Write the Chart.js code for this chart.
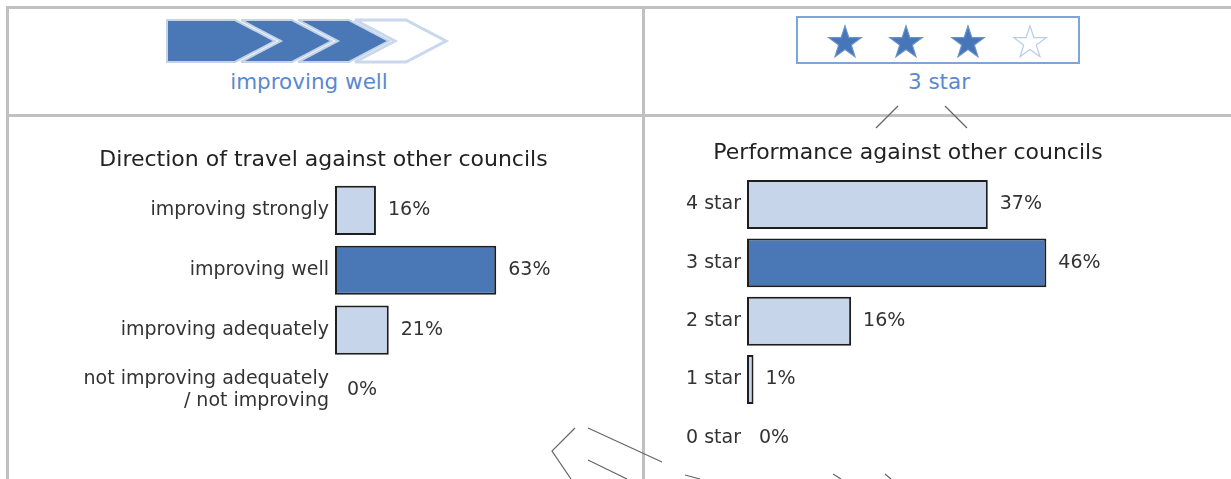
<!DOCTYPE html>
<html>
<head>
<meta charset="utf-8">
<script src="https://cdn.jsdelivr.net/npm/chart.js@4"></script>
<style>
  body { margin: 0; background: #fff; }
  #page { position: relative; width: 1231px; height: 479px; overflow: hidden; background: #fff; }
  .rule { position: absolute; background: #c0c0c0; }
  canvas { position: absolute; }
  svg { position: absolute; left: 0; top: 0; }
</style>
</head>
<body>
<div id="page">
  <div class="rule" style="left:6px;top:6px;width:1225px;height:3px"></div>
  <div class="rule" style="left:6px;top:114px;width:1225px;height:3px"></div>
  <div class="rule" style="left:6px;top:6px;width:3px;height:473px"></div>
  <div class="rule" style="left:642px;top:6px;width:3px;height:473px"></div>

  <svg id="head" width="1231" height="479"></svg>

  <canvas id="Chart1" style="left:10px;top:120px" width="630" height="359"></canvas>
  <canvas id="Chart2" style="left:646px;top:120px" width="585" height="359"></canvas>
</div>
<script>
// values
const travelLabels = ['improving strongly', 'improving well', 'improving adequately', ['not improving adequately', '/ not improving']];
const travelValues = [16, 63, 21, 0];
const travelCurrent = 1;   // "improving well"

const starLabels = ['4 star', '3 star', '2 star', '1 star', '0 star'];
const starValues = [37, 46, 16, 1, 0];
const starCurrent = 1;     // "3 star"
const starsGot = 3;
const starsMax = 4;

const chevronSteps = 4;
const chevronGot = 3;

const dark = '#4a78b6';
const light = '#c6d5e9';
const labelFont = { family: 'DejaVu Sans', size: 19 };

// draws "16%" etc. just after the end of each bar
const valueLabels = {
  id: 'valueLabels',
  afterDatasetsDraw(chart) {
    const ctx = chart.ctx;
    const meta = chart.getDatasetMeta(0);
    ctx.save();
    ctx.font = '19px "DejaVu Sans"';
    ctx.fillStyle = '#333';
    ctx.textAlign = 'left';
    ctx.textBaseline = 'middle';
    meta.data.forEach(function(bar, i) {
      ctx.fillText(chart.data.datasets[0].data[i] + '%', bar.x + 12, bar.y);
    });
    ctx.restore();
  }
};

function chart(chartID, labels, values, current, title, axisWidth, xmax, barPct, pad, titlePad) {
  const ctx = document.getElementById(chartID).getContext('2d');
  return new Chart(ctx, {
    type: 'bar',
    data: {
      labels: labels,
      datasets: [{
        data: values,
        backgroundColor: function(c) { return c.dataIndex === current ? dark : light; },
        borderColor: '#1e1e1e',
        borderWidth: function(c) { return c.raw ? 2 : 0; },
        borderSkipped: false,
        categoryPercentage: 1,
        barPercentage: barPct
      }]
    },
    options: {
      indexAxis: 'y',
      responsive: false,
      animation: false,
      layout: { padding: pad },
      plugins: {
        legend: { display: false },
        tooltip: { enabled: false },
        title: {
          display: true,
          text: title,
          color: '#222',
          font: { family: 'DejaVu Sans', size: 22, weight: 'normal' },
          padding: titlePad
        }
      },
      scales: {
        x: { display: false, min: 0, max: xmax },
        y: {
          grid: { display: false, drawTicks: false },
          border: { display: false },
          ticks: { color: '#333', font: labelFont, padding: 6 },
          afterFit: function(scale) {
            scale.width = axisWidth;
            scale.paddingTop = 0;
            scale.paddingBottom = 0;
          }
        }
      }
    },
    plugins: [valueLabels]
  });
}

chart('Chart1', travelLabels, travelValues, travelCurrent,
  'Direction of travel against other councils', 325, 118, 0.82,
  { top: 0, right: 3, bottom: 59, left: 0 }, { top: 27, bottom: 7 });
chart('Chart2', starLabels, starValues, starCurrent,
  'Performance against other councils', 101, 65, 0.84,
  { top: 0, right: 61, bottom: 12, left: 0 }, { top: 20, bottom: 9 });

// header pictures: chevrons and stars
const svg = document.getElementById('head');
let out = '';
for (let i = 0; i < chevronSteps; i++) {
  const tip = 275 + 57 * i;
  const tr = tip - 40;
  let pts;
  if (i === 0) {
    pts = [[167, 20], [tr, 20], [tip, 41], [tr, 62], [167, 62]];
  } else {
    const tl = tr - 51;
    pts = [[tl, 20], [tr, 20], [tip, 41], [tr, 62], [tl, 62], [tl + 40, 41]];
  }
  const filled = i < chevronGot;
  out += '<polygon points="' + pts.map(p => p.join(',')).join(' ') + '" fill="' + (filled ? dark : '#fff') +
    '" stroke="' + (filled ? '#c3d4ea' : '#c9d8ed') + '" stroke-width="' + (filled ? 2 : 3) + '" stroke-linejoin="miter"/>';
}
out += '<text x="309" y="89" text-anchor="middle" font-family="DejaVu Sans" font-size="21.5" fill="#5a89cf">improving well</text>';

out += '<rect x="797" y="17" width="282" height="46" fill="none" stroke="#7fa4d7" stroke-width="2"/>';
const starX = [845, 906, 968, 1030];
for (let s = 0; s < starsMax; s++) {
  const pts = [];
  for (let k = 0; k < 10; k++) {
    const r = k % 2 === 0 ? 17 : 6.6;
    const a = -Math.PI / 2 + k * Math.PI / 5;
    pts.push((starX[s] + r * Math.cos(a)).toFixed(1) + ',' + (43 + r * Math.sin(a)).toFixed(1));
  }
  const got = s < starsGot;
  out += '<polygon points="' + pts.join(' ') + '" fill="' + (got ? '#4676b8' : '#fff') +
    '" stroke="' + (got ? '#6a92c8' : '#b9cce8') + '" stroke-width="1.2"/>';
}
out += '<text x="939" y="89" text-anchor="middle" font-family="DejaVu Sans" font-size="21.5" fill="#5a89cf">3 star</text>';

// the faint outline strokes that cross the picture
const strokes = [
  [[898, 106], [876, 128]],
  [[945, 106], [967, 128]],
  [[575, 428], [552, 451], [571, 479]],
  [[588, 428], [662, 462]],
  [[588, 460], [627, 479]],
  [[685, 475], [700, 479]],
  [[833, 474], [841, 479]],
  [[885, 474], [891, 479]]
];
strokes.forEach(function(l) {
  out += '<polyline points="' + l.map(p => p.join(',')).join(' ') + '" fill="none" stroke="#666" stroke-width="1.2"/>';
});
svg.innerHTML = out;
</script>
</body>
</html>
